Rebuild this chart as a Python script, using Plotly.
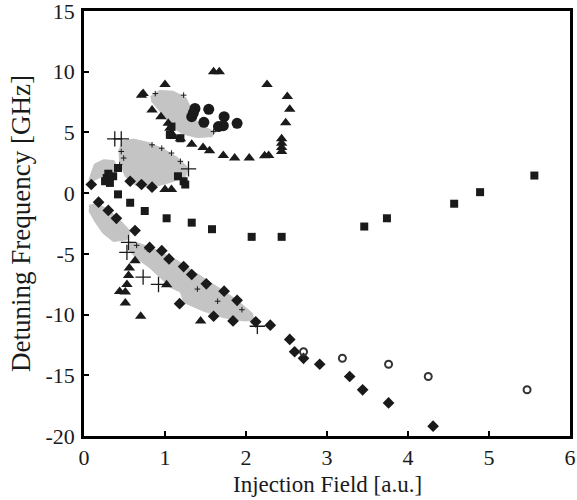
import plotly.graph_objects as go

# ---- data ----
tri_x = [1.60, 1.67, 1.00, 0.73, 0.71, 2.26, 2.51, 2.54, 2.49, 2.44, 2.44, 2.44, 2.44,
         0.84, 0.95, 1.04, 1.06, 1.08, 1.10, 1.19, 1.33, 1.47, 1.55, 1.72, 1.86, 2.04, 2.23, 2.28,
         1.00, 1.08,
         0.63, 0.56, 0.55, 0.53, 0.44, 0.51, 0.51, 0.70, 1.02, 1.44]
tri_y = [10.0, 10.0, 8.94, 8.2, 8.07, 8.94, 7.96, 6.9, 5.8, 4.47, 4.1, 3.76, 3.43,
         6.84, 6.3, 5.75, 5.34, 4.93, 4.66, 4.47, 4.03, 3.76, 3.5, 3.1, 2.9, 2.9, 3.08, 3.1,
         0.3, 0.3,
         -5.56, -6.16, -6.79, -7.52, -8.1, -8.15, -9.05, -10.14, -7.55, -10.52]

circ_x = [1.37, 1.54, 1.33, 1.35, 1.73, 1.48, 1.66, 1.72, 1.89]
circ_y = [6.97, 6.9, 6.3, 6.6, 6.3, 5.83, 5.48, 5.56, 5.75]

sq_x = [0.26, 0.32, 0.28, 0.36, 0.42, 0.30, 0.42, 0.57, 0.75, 1.02, 1.33, 1.58, 2.07, 2.44,
        3.46, 3.74, 4.57, 4.89, 5.56, 1.16, 1.23, 1.25, 1.08, 1.06, 1.19]
sq_y = [0.98, 0.84, 1.25, 1.39, 2.07, 1.6, -0.1, -0.79, -1.47, -2.07, -2.43, -2.97, -3.6, -3.6,
        -2.75, -2.07, -0.87, 0.08, 1.45, 1.39, 0.98, 0.71, 5.48, 4.8, 4.52]

dia_x = [0.09, 0.18, 0.30, 0.40, 0.63, 0.57, 0.71, 0.84,
         0.81, 0.96, 1.05, 1.23, 1.33, 1.51, 1.73, 1.89,
         1.18, 1.60, 1.84, 2.12, 2.30, 2.54, 2.60, 2.71, 2.91, 3.28, 3.44, 3.76, 4.31]
dia_y = [0.71, -0.74, -1.42, -2.07, -3.08, 0.98, 0.71, 0.49,
         -4.47, -4.74, -5.42, -6.05, -6.7, -7.47, -8.07, -8.83,
         -9.1, -10.14, -10.52, -10.6, -10.87, -12.05, -13.06, -13.6, -14.09, -15.1, -16.2, -17.28, -19.19]

odia_x = [2.71, 3.19, 3.76, 4.25, 5.47]
odia_y = [-13.06, -13.6, -14.09, -15.1, -16.19]

cross_x = [0.38, 0.46, 1.29, 0.55, 0.53, 0.73, 0.92, 2.14]
cross_y = [4.47, 4.47, 2.0, -4.06, -4.88, -6.92, -7.52, -10.96]

edge_x = [0.84, 0.96, 1.08, 1.19, 0.46, 0.49, 0.44, 0.88, 1.23, 1.60, 0.65, 0.78, 1.40, 1.65, 1.95]
edge_y = [3.98, 3.7, 3.3, 2.62, 3.43, 2.89, 2.35, 8.2, 8.07, 5.07, -4.3, -4.6, -7.9, -8.9, -9.6]

# gray regions (outlines)
blobA_x = [0.82, 0.93, 1.10, 1.26, 1.32, 1.35, 1.48, 1.62, 1.58, 1.39, 1.22, 1.09, 1.01, 0.91, 0.83]
blobA_y = [7.95, 8.45, 8.4, 7.85, 6.97, 6.16, 5.48, 5.05, 4.65, 4.58, 4.88, 5.45, 6.16, 6.97, 7.58]
blobB_x = [0.47, 0.61, 0.81, 0.99, 1.15, 1.29, 1.25, 1.07, 0.86, 0.64, 0.51, 0.44, 0.43]
blobB_y = [4.3, 4.45, 4.15, 3.6, 2.95, 2.07, 1.3, 0.9, 0.5, 0.62, 1.35, 2.62, 3.6]
blobC_x = [0.06, 0.13, 0.24, 0.37, 0.41, 0.33, 0.22, 0.10]
blobC_y = [1.1, 2.4, 2.75, 2.68, 2.07, 1.5, 1.35, 0.98]
blobD_x = [0.06, 0.16, 0.29, 0.45, 0.57, 0.53, 0.36, 0.23, 0.13, 0.06]
blobD_y = [-1.0, -0.88, -1.3, -2.27, -3.1, -3.85, -3.98, -3.28, -2.3, -1.47]
blobE_x = [0.56, 0.69, 0.90, 1.14, 1.39, 1.64, 1.89, 2.08, 2.10, 1.97, 1.72, 1.47, 1.23, 1.19,
           1.06, 0.94, 0.81, 0.64, 0.56]
blobE_y = [-4.0, -4.15, -4.7, -5.5, -6.6, -7.7, -8.8, -9.9, -10.5, -10.52, -10.25, -9.7,
           -9.0, -8.15, -7.74, -6.95, -6.15, -5.3, -4.74]

y_ticks = [-20, -15, -10, -5, 0, 5, 10, 15]
y_labels = ["-20", "-15", "-10", "-5", "0", "5", "10", "15"]
x_ticks = [0, 1, 2, 3, 4, 5, 6]
x_labels = ["0", "1", "2", "3", "4", "5", "6"]

fig = go.Figure()
gray = "#c4c4c4"
for bx, by in [(blobA_x, blobA_y), (blobB_x, blobB_y), (blobC_x, blobC_y),
               (blobD_x, blobD_y), (blobE_x, blobE_y)]:
    fig.add_trace(go.Scatter(x=bx, y=by, mode="lines", fill="toself", fillcolor=gray,
                             line=dict(color=gray, width=1),
                             hoverinfo="skip", showlegend=False))

ink = "#1a1a1a"
fig.add_trace(go.Scatter(x=edge_x, y=edge_y, mode="markers",
                         marker=dict(symbol="cross-thin", size=4, line=dict(color=ink, width=1)),
                         showlegend=False))
fig.add_trace(go.Scatter(x=cross_x, y=cross_y, mode="markers",
                         marker=dict(symbol="cross-thin", size=11, line=dict(color=ink, width=1.3)),
                         showlegend=False))
fig.add_trace(go.Scatter(x=tri_x, y=tri_y, mode="markers",
                         marker=dict(symbol="triangle-up", size=10, color=ink), showlegend=False))
fig.add_trace(go.Scatter(x=circ_x, y=circ_y, mode="markers",
                         marker=dict(symbol="circle", size=11, color=ink), showlegend=False))
fig.add_trace(go.Scatter(x=sq_x, y=sq_y, mode="markers",
                         marker=dict(symbol="square", size=8, color=ink), showlegend=False))
fig.add_trace(go.Scatter(x=dia_x, y=dia_y, mode="markers",
                         marker=dict(symbol="diamond", size=9, color=ink), showlegend=False))
fig.add_trace(go.Scatter(x=odia_x, y=odia_y, mode="markers",
                         marker=dict(symbol="circle-open", size=7, color="#333333",
                                     line=dict(width=2)), showlegend=False))

font = dict(family="Liberation Serif", size=22, color="#1a1a1a")
axis_common = dict(showgrid=False, zeroline=False, showline=True, linecolor="black",
                   linewidth=2.5, mirror=True, ticks="inside", ticklen=5, tickwidth=1.5,
                   tickcolor="black", tickfont=font, tickmode="array",
                   ticklabeloverflow="allow", automargin=False)
fig.update_layout(
    width=577, height=500,
    margin=dict(l=84, r=7, t=11, b=64, autoexpand=False),
    plot_bgcolor="white", paper_bgcolor="white",
    font=font,
    xaxis=dict(range=[0, 6], tickvals=x_ticks, ticktext=x_labels,
               ticklabelstandoff=0, **axis_common),
    yaxis=dict(range=[-20, 15], tickvals=y_ticks, ticktext=y_labels,
               title=dict(text="Detuning Frequency [GHz]",
                          font=dict(family="Liberation Serif", size=27, color="#1a1a1a"),
                          standoff=8),
               ticklabelstandoff=2, **axis_common),
    annotations=[dict(text="Injection Field [a.u.]", xref="paper", yref="paper",
                      x=0.5, y=0, yshift=-34, yanchor="top", showarrow=False,
                      font=dict(family="Liberation Serif", size=23, color="#1a1a1a"))],
)
fig.write_html("out.html")
